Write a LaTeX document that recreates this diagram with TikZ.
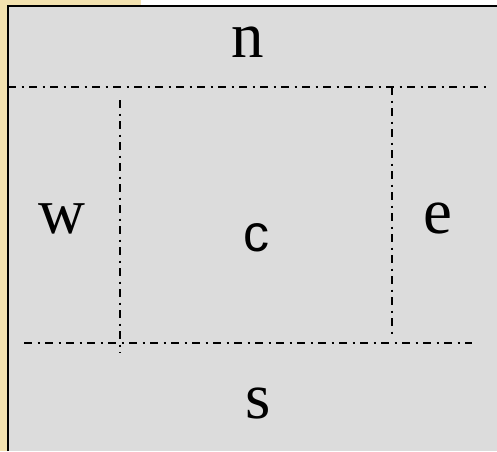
\documentclass[tikz,border=0pt]{standalone}
\usepackage{fontspec}
\setmainfont{Liberation Serif}
\setsansfont{Liberation Sans}
\definecolor{beige}{HTML}{F3E2B0}
\definecolor{panel}{HTML}{DCDCDC}
\begin{document}
\begin{tikzpicture}[x=1pt,y=1pt,
  divider/.style={line width=1.6pt,dash pattern=on 8pt off 5.5pt on 2pt off 5.5pt},
  serlab/.style={font=\fontsize{65}{65}\selectfont,anchor=base,inner sep=0pt},
  sanslab/.style={font=\sffamily\fontsize{52}{52}\selectfont,anchor=base,inner sep=0pt}]
\useasboundingbox (0,0) rectangle (497,451);
\fill[white] (0,0) rectangle (497,451);
\fill[beige] (0,0) rectangle (8,451);
\fill[beige] (0,445) rectangle (141,451);
\fill[panel] (8,0) rectangle (497,445);
\draw[line width=2.4pt] (8,0) -- (8,445) -- (497,445);
% dividers
\coordinate (tl) at (8,364);
\coordinate (tr) at (486,364);
\coordinate (bl) at (24,108);
\coordinate (br) at (472,108);
\coordinate (lt) at (120,351);
\coordinate (lb) at (120,98);
\coordinate (rt) at (392,364);
\coordinate (rb) at (392,114);
\draw[divider] (tl) -- (tr);
\draw[divider] (bl) -- (br);
\draw[divider] (lt) -- (lb);
\draw[divider] (rt) -- (rb);
% labels
\node[serlab] (n) at (248,394) {n};
\node[serlab] (w) at (62,218) {w};
\node[serlab] (e) at (438,218) {e};
\node[serlab] (s) at (258,33) {s};
\node[sanslab] (c) at (256,200) {c};
\end{tikzpicture}
\end{document}
